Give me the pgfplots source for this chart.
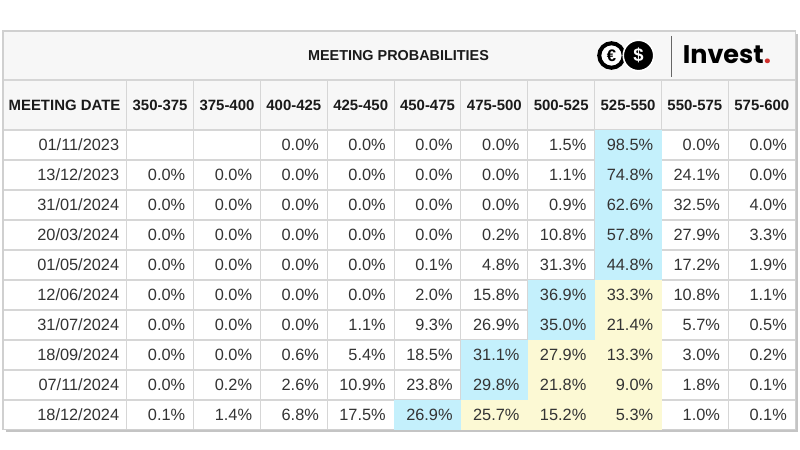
\documentclass[border=0pt]{standalone}
\usepackage{pgfplots}
\pgfplotsset{compat=1.18}
\usepackage{pgfplotstable}
\usepackage{fontspec}
\setmainfont{Liberation Sans}
\newfontfamily\pop{Poppins}

\definecolor{gridc}{HTML}{D6D6D6}
\definecolor{bordc}{HTML}{D0D0D0}
\definecolor{shadc}{HTML}{C4C4C4}
\definecolor{headbg}{HTML}{F7F7F7}
\definecolor{cyanc}{HTML}{C4F0FC}
\definecolor{yellc}{HTML}{FCF9D4}
\definecolor{txt}{HTML}{333333}
\definecolor{hdr}{HTML}{1A1A1A}
\definecolor{dotred}{HTML}{D0312D}

% one table cell (66.85 px x 30 px, 1 px = 0.02 cm)
\pgfdeclareplotmark{cell}{%
  \pgfpathrectangle{\pgfpoint{-0.6685cm}{-0.3cm}}{\pgfpoint{1.337cm}{0.6cm}}%
  \pgfusepathqfill}

\pgfplotstableread{
date       c0   c1   c2   c3   c4   c5   c6   c7   c8   c9
01/11/2023 nan  nan  0.0  0.0  0.0  0.0  1.5  98.5 0.0  0.0
13/12/2023 0.0  0.0  0.0  0.0  0.0  0.0  1.1  74.8 24.1 0.0
31/01/2024 0.0  0.0  0.0  0.0  0.0  0.0  0.9  62.6 32.5 4.0
20/03/2024 0.0  0.0  0.0  0.0  0.0  0.2  10.8 57.8 27.9 3.3
01/05/2024 0.0  0.0  0.0  0.0  0.1  4.8  31.3 44.8 17.2 1.9
12/06/2024 0.0  0.0  0.0  0.0  2.0  15.8 36.9 33.3 10.8 1.1
31/07/2024 0.0  0.0  0.0  1.1  9.3  26.9 35.0 21.4 5.7  0.5
18/09/2024 0.0  0.0  0.6  5.4  18.5 31.1 27.9 13.3 3.0  0.2
07/11/2024 0.0  0.2  2.6  10.9 23.8 29.8 21.8 9.0  1.8  0.1
18/12/2024 0.1  1.4  6.8  17.5 26.9 25.7 15.2 5.3  1.0  0.1
}\probs

% highlighted cells: column index, row index
\pgfplotstableread{
c r
7 0
7 1
7 2
7 3
7 4
6 5
6 6
5 7
5 8
4 9
}\cyancells

\pgfplotstableread{
c r
7 5
7 6
6 7
7 7
6 8
7 8
5 9
6 9
7 9
}\yellcells

\pgfplotsset{
  probtext/.style={draw=none, point meta=explicit,
    nodes near coords={\pgfmathprintnumber[fixed,fixed zerofill,precision=1]{\pgfplotspointmeta}\%},
    nodes near coords align={anchor=east},
    every node near coord/.append style={anchor=east, inner sep=0pt, text=txt, font=\fontsize{9.3}{11}\selectfont}},
}

\begin{document}
\begin{tikzpicture}
\begin{axis}[
  width=16cm, height=9cm, scale only axis,
  xmin=0, xmax=800, ymin=0, ymax=450,
  y dir=reverse, hide axis, clip=false,
  /pgf/number format/assume math mode=true,
]
% page background
\addplot[fill=white, draw=none] coordinates {(0,0)(800,0)(800,450)(0,450)} -- cycle;
% shadow
\addplot[shadc, line width=1.4pt] coordinates {(6,431.2)(797,431.2)(797,34)};
% title + header background
\addplot[fill=headbg, draw=none] coordinates {(3,31)(795.2,31)(795.2,130)(3,130)} -- cycle;
% highlighted cells
\addplot[only marks, mark=cell, color=cyanc] table[x expr={126.7+66.85*(\thisrow{c}+0.5)}, y expr={145+30*\thisrow{r}}]{\cyancells};
\addplot[only marks, mark=cell, color=yellc] table[x expr={126.7+66.85*(\thisrow{c}+0.5)}, y expr={145+30*\thisrow{r}}]{\yellcells};
% grid lines
\addplot[gridc, line width=0.6pt, unbounded coords=jump] coordinates {
 (3,80)(795.2,80) (nan,nan)
 (3,130)(795.2,130) (nan,nan)
 (3,160)(795.2,160) (nan,nan)
 (3,190)(795.2,190) (nan,nan)
 (3,220)(795.2,220) (nan,nan)
 (3,250)(795.2,250) (nan,nan)
 (3,280)(795.2,280) (nan,nan)
 (3,310)(795.2,310) (nan,nan)
 (3,340)(795.2,340) (nan,nan)
 (3,370)(795.2,370) (nan,nan)
 (3,400)(795.2,400) (nan,nan)
 (126.7,80)(126.7,429.5) (nan,nan)
 (193.55,80)(193.55,429.5) (nan,nan)
 (260.4,80)(260.4,429.5) (nan,nan)
 (327.25,80)(327.25,429.5) (nan,nan)
 (394.1,80)(394.1,429.5) (nan,nan)
 (460.95,80)(460.95,429.5) (nan,nan)
 (527.8,80)(527.8,429.5) (nan,nan)
 (594.65,80)(594.65,429.5) (nan,nan)
 (661.5,80)(661.5,429.5) (nan,nan)
 (728.35,80)(728.35,429.5)
};
% outer border
\addplot[bordc, line width=0.8pt] coordinates {(3,31)(795.2,31)(795.2,429.5)(3,429.5)} -- cycle;

% dates
\addplot[draw=none, point meta=explicit symbolic,
  nodes near coords={\pgfplotspointmeta}, nodes near coords align={anchor=east},
  every node near coord/.append style={anchor=east, inner sep=0pt, text=txt, font=\fontsize{9.3}{11}\selectfont}]
  table[x expr=119.5, y expr={145+30*\coordindex}, meta=date]{\probs};

% probabilities (first row of the two lowest brackets is empty)
\pgfplotsinvokeforeach{0,1}{
\addplot[probtext, skip coords between index={0}{1}]
  table[x expr={126.7+66.85*(#1+1)-8}, y expr={145+30*\coordindex}, meta=c#1]{\probs};
}
\pgfplotsinvokeforeach{2,...,9}{
\addplot[probtext]
  table[x expr={126.7+66.85*(#1+1)-8}, y expr={145+30*\coordindex}, meta=c#1]{\probs};
}

% title and headers
\node[font=\bfseries\fontsize{8.2}{10}\selectfont, text=hdr] at (axis cs:398.5,55.5) {MEETING PROBABILITIES};
\begin{scope}[every node/.style={font=\bfseries\fontsize{8.5}{10}\selectfont, text=hdr}]
\node at (axis cs:64.5,105.5) {MEETING DATE};
\node at (axis cs:160.1,105.5) {350-375};
\node at (axis cs:227.0,105.5) {375-400};
\node at (axis cs:293.8,105.5) {400-425};
\node at (axis cs:360.7,105.5) {425-450};
\node at (axis cs:427.5,105.5) {450-475};
\node at (axis cs:494.4,105.5) {475-500};
\node at (axis cs:561.2,105.5) {500-525};
\node at (axis cs:628.1,105.5) {525-550};
\node at (axis cs:694.9,105.5) {550-575};
\node at (axis cs:761.8,105.5) {575-600};
\end{scope}

% logo
\node[circle, draw=black, fill=white, line width=2.3pt, minimum size=0.49cm, inner sep=0pt,
  font=\bfseries\fontsize{9.5}{10}\selectfont] at (axis cs:611.5,55.5) {€};
\node[circle, draw=white, fill=black, line width=0.9pt, minimum size=0.61cm, inner sep=0pt,
  text=white, font=\bfseries\fontsize{10.5}{11}\selectfont] at (axis cs:638.5,55.5) {\$};
\draw[gray!80!black, line width=0.6pt] (axis cs:671.7,36) -- (axis cs:671.7,77);
\node[anchor=base west, inner sep=0pt, font=\pop\bfseries\fontsize{14.5}{16}\selectfont, text=black]
  at (axis cs:682.5,63.5) {Invest\textcolor{dotred}{.}};
\end{axis}
\end{tikzpicture}
\end{document}
